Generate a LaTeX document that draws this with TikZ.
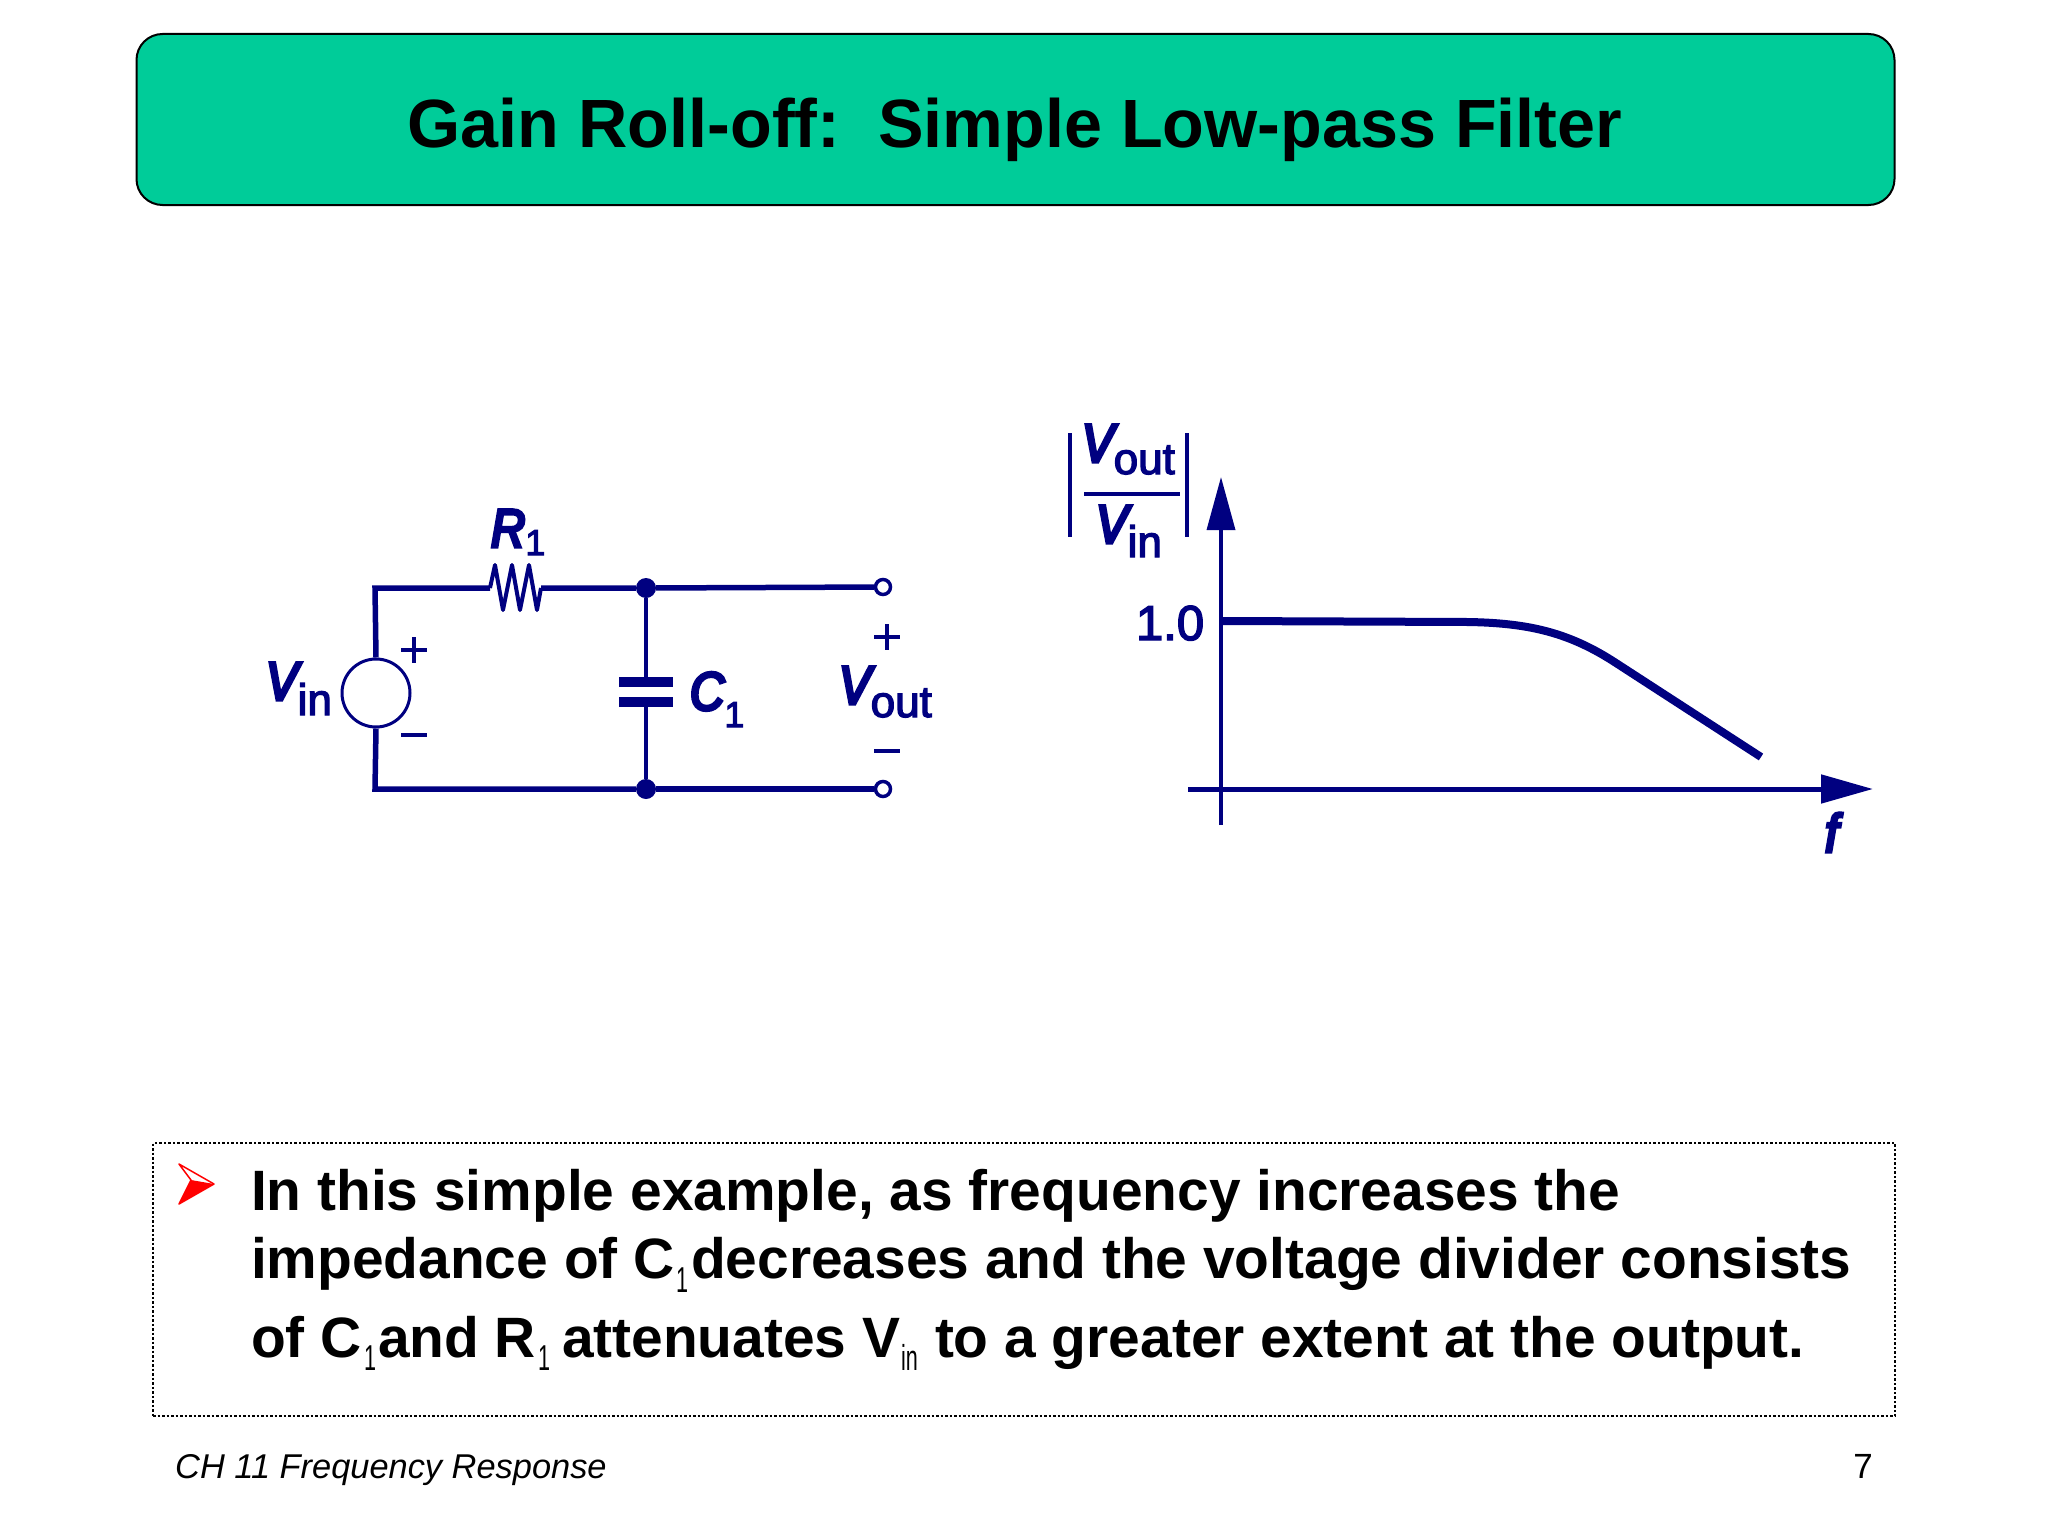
\documentclass[tikz,border=0pt]{standalone}
\usepackage{fontspec}
\usetikzlibrary{arrows.meta}
\setmainfont{Liberation Sans}
\newfontfamily\capfont[FakeBold=6,FakeStretch=0.88]{Liberation Sans Italic}
\newfontfamily\subfont[FakeBold=3]{Liberation Sans}
\definecolor{wire}{HTML}{000080}
\definecolor{banner}{HTML}{00CC99}
\newcommand{\fs}[1]{\fontsize{#1pt}{#1pt}\selectfont}
\newcommand{\narrowsub}[2]{\scalebox{0.6}[1]{\fs{#1}\mdseries #2}}
\newcommand{\capv}[1]{{\capfont\fs{54}#1}}
\newcommand{\subv}[3]{\raisebox{-#1pt}{\subfont\fs{#2}#3}}
\tikzset{
  lbl/.style={inner sep=0pt,outer sep=0pt,anchor=base west,text=wire},
  body/.style={inner sep=0pt,outer sep=0pt,anchor=base west,text=black,font=\fs{56.9}\bfseries},
  sub/.style={inner sep=0pt,outer sep=0pt,anchor=base west,text=black},
  wiring/.style={draw=wire,line width=5.5pt,line join=miter},
  thinwire/.style={draw=wire,line width=3.5pt},
  dotnode/.style={circle,fill=wire,inner sep=0pt,minimum size=20pt},
  term/.style={circle,draw=wire,fill=white,line width=3.5pt,inner sep=0pt,minimum size=15pt},
  plate/.style={rectangle,fill=wire,inner sep=0pt,minimum width=54pt,minimum height=10pt},
  source/.style={circle,draw=wire,line width=3pt,fill=white,inner sep=0pt,minimum size=68pt},
}
\begin{document}
\begin{tikzpicture}[x=1pt,y=-1pt]
\useasboundingbox (0,0) rectangle (2048,1536);
\fill[white] (0,0) rectangle (2048,1536);
% title
\node[draw=black,line width=2pt,fill=banner,rounded corners=26pt,minimum width=1758pt,minimum height=171pt,inner sep=0pt] (banner) at (1015.5,119.5) {};
\node[inner sep=0pt,anchor=base,font=\fs{68.3}\bfseries] (title) at (1015,147) {Gain Roll-off:\ \ Simple Low-pass Filter};
% circuit
\coordinate (tl) at (375,588);
\coordinate (bl) at (375,789);
\coordinate (rl) at (490,588);
\coordinate (rr) at (541,588);
\node[source] (vs) at (376,693) {};
\node[dotnode] (top) at (646,588) {};
\node[dotnode] (bot) at (646,789) {};
\node[term] (tt) at (883,587) {};
\node[term] (tb) at (883,789) {};
\node[plate] (p1) at (646,682) {};
\node[plate] (p2) at (646,702) {};
\draw[wiring] (vs.north) -- (tl) -- (rl);
\draw[wiring] (vs.south) -- (bl) -- (bot);
\draw[wiring] (bot) -- (tb);
\draw[wiring] (rr) -- (top) -- (tt);
\draw[thinwire] (top) -- (p1.north);
\draw[thinwire] (p2.south) -- (bot);
\draw[draw=wire,line width=4pt,line join=round] (rl) -- (495,565) -- (503,610) -- (512,565) -- (520,610) -- (529,565) -- (537,610) -- (rr);
\node[lbl] (r1) at (491,547) {\capv{R}\subv{8}{36}{1}};
\node[lbl] (c1) at (690,710) {\capv{C}\subv{17}{36}{1}};
\node[lbl] (vin) at (266,700) {\capv{V}\subv{15}{44}{in}};
\node[lbl] (vout) at (839,704) {\capv{V}\subv{13}{44}{out}};
\coordinate (pl1) at (401,650); \coordinate (pl2) at (427,650);
\coordinate (pv1) at (414,637); \coordinate (pv2) at (414,663);
\draw[thinwire] (pl1) -- (pl2) (pv1) -- (pv2);
\coordinate (ml1) at (401,735); \coordinate (ml2) at (427,735);
\draw[thinwire] (ml1) -- (ml2);
\coordinate (ql1) at (874,637); \coordinate (ql2) at (900,637);
\coordinate (qv1) at (887,624); \coordinate (qv2) at (887,650);
\draw[thinwire] (ql1) -- (ql2) (qv1) -- (qv2);
\coordinate (nl1) at (874,751); \coordinate (nl2) at (900,751);
\draw[thinwire] (nl1) -- (nl2);
% plot
\coordinate (yb) at (1221,825);
\coordinate (yt) at (1221,477);
\coordinate (xl) at (1188,789);
\coordinate (xr) at (1873,789);
\draw[draw=wire,line width=3.5pt,-{Triangle[length=53pt,width=28pt]}] (yb) -- (yt);
\draw[draw=wire,line width=5pt,-{Triangle[length=52pt,width=28pt]}] (xl) -- (xr);
\draw[draw=wire,line width=8pt] (1222,621) -- (1468,622) .. controls (1530,623) and (1570,633) .. (1616,663) -- (1761,757);
\node[lbl] (one) at (1136,640) {\subfont\fs{49}1.0};
\node[lbl] (f) at (1825,852) {\capv{f}};
\coordinate (a1) at (1070,433); \coordinate (a2) at (1070,537);
\coordinate (b1) at (1187,433); \coordinate (b2) at (1187,537);
\draw[thinwire] (a1) -- (a2) (b1) -- (b2);
\coordinate (fl) at (1084,494); \coordinate (fr) at (1180,494);
\draw[draw=wire,line width=4pt] (fl) -- (fr);
\node[lbl] (fn) at (1082,462) {\capv{V}\subv{12}{44}{out}};
\node[lbl] (fd) at (1096,543) {\capv{V}\subv{14}{44}{in}};
% text box
\node[draw=black,line width=2.5pt,dash pattern=on 2.5pt off 2pt,minimum width=1742pt,minimum height=273pt,inner sep=0pt] (tbox) at (1024,1279.5) {};
\coordinate (ba) at (179,1164); \coordinate (bt) at (214,1184); \coordinate (bb) at (179,1204); \coordinate (bn) at (191,1180);
\fill[red] (bt) -- (bb) -- (bn) -- cycle;
\draw[red,line width=1.5pt,line join=round] (ba) -- (bt) -- (bb) -- (bn) -- cycle;
\node[body] (l1) at (251,1210) {In this simple example, as frequency increases the};
\node[body] (l2a) at (251,1278) {impedance of C};
\node[sub] (l2s) at (676,1292) {\narrowsub{36}{1}};
\node[body] (l2b) at (691,1278) {decreases and the voltage divider consists};
\node[body] (l3a) at (251,1357) {of C};
\node[sub] (l3s) at (364,1370) {\narrowsub{36}{1}};
\node[body] (l3b) at (378,1357) {and R};
\node[sub] (l3t) at (538,1370) {\narrowsub{36}{1}};
\node[body] (l3c) at (562,1357) {attenuates V};
\node[sub] (l3i) at (901,1370) {\narrowsub{36}{in}};
\node[body] (l3d) at (935,1357) {to a greater extent at the output.};
% footer
\node[inner sep=0pt,anchor=base west,font=\fs{34.4}\itshape] (foot) at (175,1478) {CH 11 Frequency Response};
\node[inner sep=0pt,anchor=base east,font=\fs{35}] (page) at (1873,1478) {7};
\end{tikzpicture}
\end{document}
